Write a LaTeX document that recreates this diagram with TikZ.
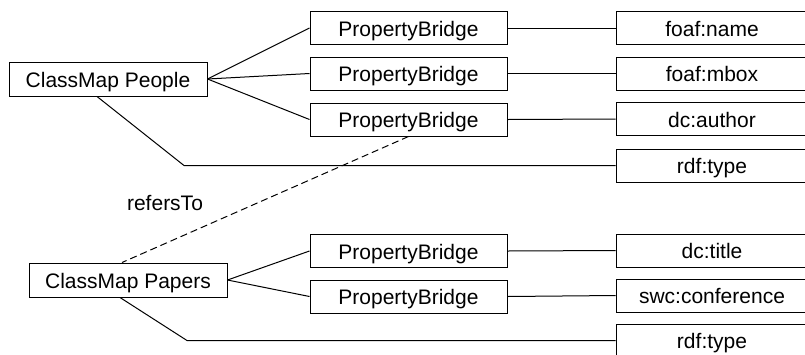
\documentclass[tikz,border=0pt]{standalone}
\usepackage{fontspec}
\setmainfont{Liberation Sans}
\begin{document}
\begin{tikzpicture}[x=1pt,y=-1pt,
  every node/.style={font=\fontsize{21}{25}\selectfont, inner sep=0pt,
    text height=16pt, text depth=0pt},
  box/.style={draw, line width=1pt, minimum height=33pt},
  classbox/.style={box, minimum width=198pt, minimum height=34pt},
  bridgebox/.style={box, minimum width=197pt},
  propbox/.style={box, minimum width=192pt},
  link/.style={line width=1pt},
  reflink/.style={line width=1pt, dash pattern=on 7pt off 4pt}]
\useasboundingbox (0,0) rectangle (805,354);
\clip (0,0) rectangle (805,354);

% People class map and its bridges
\node[classbox] (people) at (108,79) {ClassMap People};
\node[bridgebox] (pb1) at (408.5,28) {PropertyBridge};
\node[bridgebox] (pb2) at (408.5,73.5) {PropertyBridge};
\node[bridgebox] (pb3) at (408.5,119.5) {PropertyBridge};
\node[propbox] (name) at (712,28) {foaf:name};
\node[propbox] (mbox) at (712,73.5) {foaf:mbox};
\node[propbox] (author) at (712,119) {dc:author};
\node[propbox] (type1) at (712,165.5) {rdf:type};

% Papers class map and its bridges
\node[classbox] (papers) at (128,280) {ClassMap Papers};
\node[bridgebox] (pb4) at (408.5,251) {PropertyBridge};
\node[bridgebox] (pb5) at (408.5,296.5) {PropertyBridge};
\node[propbox] (title) at (712,250.5) {dc:title};
\node[propbox] (conf) at (712,295.5) {swc:conference};
\node[propbox] (type2) at (712,340.5) {rdf:type};

\node (refers) at (165,202) {refersTo};

\coordinate (bend1) at (184,165.5);
\coordinate (bend2) at (187,340.5);

\draw[link] (people.east) -- (pb1.west);
\draw[link] (people.east) -- (pb2.west);
\draw[link] (people.east) -- (pb3.west);
\draw[link] (pb1.east) -- (name.west);
\draw[link] (pb2.east) -- (mbox.west);
\draw[link] (pb3.east) -- (author.west);
\draw[link] ([xshift=-11pt]people.south) -- (bend1) -- (type1.west);

\draw[link] (papers.east) -- (pb4.west);
\draw[link] (papers.east) -- (pb5.west);
\draw[link] (pb4.east) -- (title.west);
\draw[link] (pb5.east) -- (conf.west);
\draw[link] ([xshift=-8pt]papers.south) -- (bend2) -- (type2.west);

\draw[reflink] (pb3.south) -- ([xshift=-6pt]papers.north);
\end{tikzpicture}
\end{document}
